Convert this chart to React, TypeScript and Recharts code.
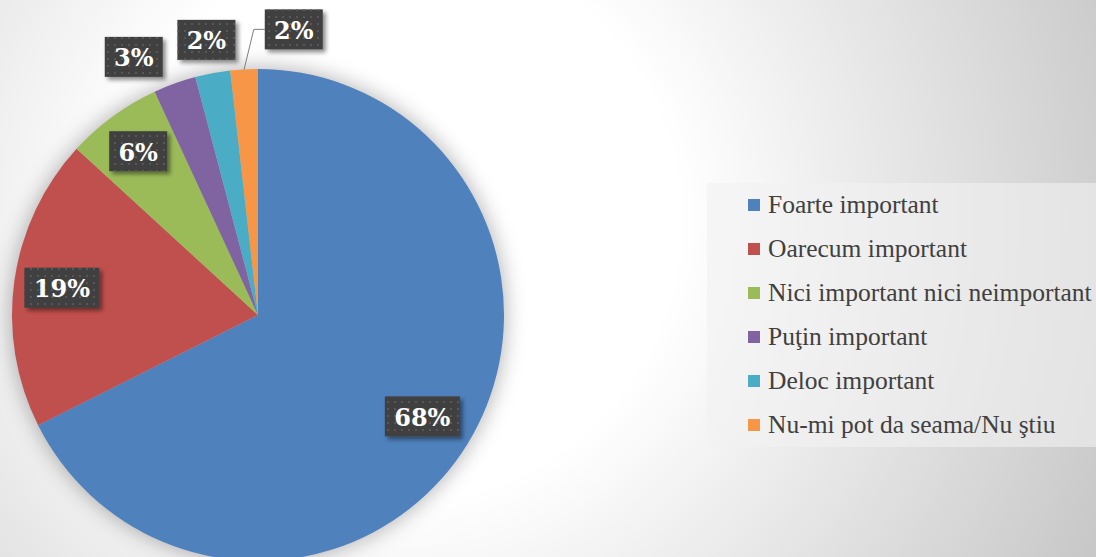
import React from 'react';
import { PieChart, Pie, Cell, Legend } from 'recharts';

const categories = [
  'Foarte important',
  'Oarecum important',
  'Nici important nici neimportant',
  'Puţin important',
  'Deloc important',
  'Nu-mi pot da seama/Nu ştiu',
];
const shares = [67.6, 19.2, 6.3, 2.8, 2.3, 1.8];
const shareLabels = ['68%', '19%', '6%', '3%', '2%', '2%'];

const COLORS = ['#4f81bd', '#c0504d', '#9bbb59', '#8064a2', '#4bacc6', '#f79646'];

const data = categories.map((name, i) => ({ name, value: shares[i] }));

// label placement, as a fraction of the outer radius, plus a nudge
const LABEL_R = [0.785, 0.805, 0.825, 1.167, 1.138, 1.167];
const LABEL_DX = [0, 0, 0, -27, 0, 52];
const LABEL_DY = [0, 0, 0, 12, 0, 1];
const RAD = Math.PI / 180;

const renderLabel = (props: any) => {
  const { cx, cy, midAngle, outerRadius, index } = props;
  const r = outerRadius * LABEL_R[index];
  const x = cx + r * Math.cos(-midAngle * RAD) + LABEL_DX[index];
  const y = cy + r * Math.sin(-midAngle * RAD) + LABEL_DY[index];
  const text = shareLabels[index];
  const w = 24 + 17 * text.length;
  const h = 40;
  let leader = null;
  if (index === shareLabels.length - 1) {
    const sx = cx + outerRadius * Math.cos(-midAngle * RAD);
    const sy = cy + outerRadius * Math.sin(-midAngle * RAD);
    const left = x - w / 2;
    leader = (
      <polyline
        points={`${sx},${sy} ${left - 11},${y} ${left},${y}`}
        fill="none"
        stroke="#7f7f7f"
        strokeWidth={1}
      />
    );
  }
  return (
    <g key={`lbl-${index}`}>
      {leader}
      <g filter="url(#lblShadow)">
        <rect x={x - w / 2} y={y - h / 2} width={w} height={h} fill="#404040" />
      </g>
      <rect x={x - w / 2} y={y - h / 2} width={w} height={h} fill="url(#dots)" />
      <text
        x={x}
        y={y + 1}
        fill="#ffffff"
        textAnchor="middle"
        dominantBaseline="central"
        style={{ fontFamily: '"DejaVu Serif", serif', fontWeight: 700, fontSize: 24 }}
      >
        {text}
      </text>
    </g>
  );
};

const renderLegend = () => (
  <div
    style={{
      width: 389,
      height: 264,
      background: 'rgba(242,242,242,0.6)',
      boxSizing: 'border-box',
      paddingLeft: 41,
    }}
  >
    {categories.map((name, i) => (
      <div
        key={name}
        style={{
          height: 44,
          display: 'flex',
          alignItems: 'center',
          fontFamily: '"Liberation Serif", serif',
          fontSize: 25.5,
          color: '#404040',
          whiteSpace: 'nowrap',
        }}
      >
        <span
          style={{
            display: 'inline-block',
            width: 12,
            height: 12,
            background: COLORS[i],
            marginRight: 8,
          }}
        />
        {name}
      </div>
    ))}
  </div>
);

export default function App() {
  return (
    <div
      style={{
        position: 'absolute',
        left: 0,
        top: 0,
        width: 1096,
        height: 557,
        overflow: 'hidden',
        background:
          'radial-gradient(circle 800px at 400px 220px, #ffffff 0%, #ffffff 35%, #c4c4c4 100%)',
      }}
    >
      <svg width={0} height={0} style={{ position: 'absolute' }}>
        <defs>
          <pattern id="dots" width={7} height={7} patternUnits="userSpaceOnUse">
            <rect x={2} y={2} width={2} height={2} fill="#575757" />
          </pattern>
          <filter id="lblShadow" x="-30%" y="-30%" width="160%" height="160%">
            <feDropShadow dx={3} dy={3} stdDeviation={2} floodColor="#000" floodOpacity={0.45} />
          </filter>
          <filter id="pieGlow" x="-20%" y="-20%" width="140%" height="140%">
            <feGaussianBlur stdDeviation={10} />
          </filter>
        </defs>
      </svg>
      <PieChart width={1096} height={557} margin={{ top: 0, right: 0, bottom: 0, left: 0 }}>
        <Pie
          data={[{ name: 'shadow', value: 1 }]}
          dataKey="value"
          cx={258}
          cy={315}
          outerRadius={248}
          startAngle={90}
          endAngle={-270}
          stroke="none"
          legendType="none"
          isAnimationActive={false}
        >
          <Cell fill="rgba(0,0,0,0.28)" filter="url(#pieGlow)" />
        </Pie>
        <Pie
          data={data}
          dataKey="value"
          nameKey="name"
          cx={258}
          cy={315}
          outerRadius={246}
          startAngle={90}
          endAngle={-270}
          stroke="none"
          labelLine={false}
          label={renderLabel}
          isAnimationActive={false}
        >
          {data.map((entry, index) => (
            <Cell key={`cell-${index}`} fill={COLORS[index % COLORS.length]} />
          ))}
        </Pie>
        <Legend
          content={renderLegend}
          wrapperStyle={{ position: 'absolute', left: 707, top: 183, width: 389, height: 264 }}
        />
      </PieChart>
    </div>
  );
}
